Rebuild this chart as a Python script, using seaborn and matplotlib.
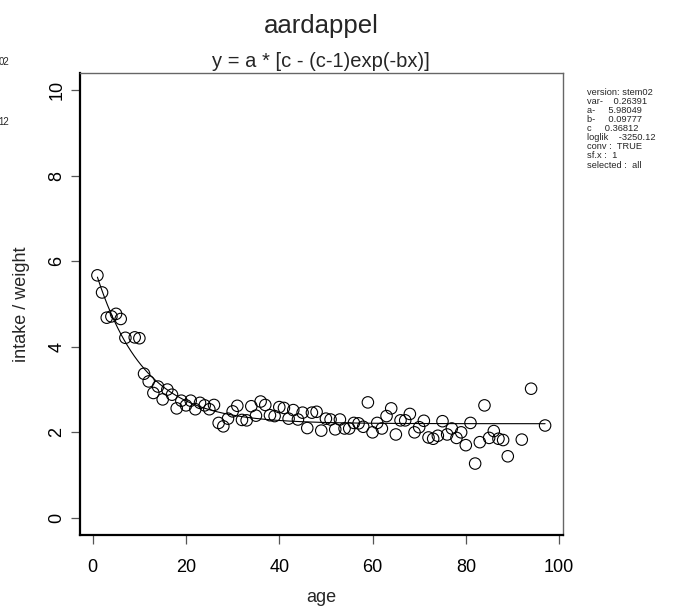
import matplotlib
matplotlib.use("Agg")
import matplotlib.pyplot as plt
import numpy as np
import pandas as pd
import seaborn as sns

# observed intake per unit body weight, by age
age = [1, 2, 3, 4, 5, 6, 7, 9, 10,
       11, 12, 13, 14, 15, 16, 17, 18, 19, 20,
       21, 22, 23, 24, 25, 26, 27, 28, 29, 30,
       31, 32, 33, 34, 35, 36, 37, 38, 39, 40,
       41, 42, 43, 44, 45, 46, 47, 48, 49, 50,
       51, 52, 53, 54, 55, 56, 57, 58, 59, 60,
       61, 62, 63, 64, 65, 66, 67, 68, 69, 70,
       71, 72, 73, 74, 75, 76, 77, 78, 79, 80,
       81, 82, 83, 84, 85, 86, 87, 88, 89, 92, 94, 97]
intake_weight = [5.67, 5.27, 4.68, 4.71, 4.77, 4.65, 4.21, 4.22, 4.20,
                 3.37, 3.19, 2.92, 3.07, 2.77, 3.00, 2.88, 2.56, 2.74, 2.63,
                 2.74, 2.54, 2.69, 2.63, 2.54, 2.64, 2.22, 2.14, 2.32, 2.49,
                 2.62, 2.29, 2.28, 2.61, 2.39, 2.72, 2.64, 2.40, 2.38, 2.59,
                 2.57, 2.32, 2.52, 2.30, 2.46, 2.10, 2.46, 2.48, 2.04, 2.32,
                 2.30, 2.07, 2.30, 2.09, 2.09, 2.22, 2.21, 2.13, 2.70, 2.00,
                 2.22, 2.09, 2.38, 2.56, 1.95, 2.28, 2.28, 2.43, 2.00, 2.12,
                 2.27, 1.88, 1.85, 1.92, 2.26, 1.95, 2.09, 1.87, 2.00, 1.70,
                 2.22, 1.27, 1.77, 2.63, 1.87, 2.03, 1.85, 1.82, 1.44, 1.83, 3.02, 2.16]

x_ticks = [0, 20, 40, 60, 80, 100]
y_ticks = [0, 2, 4, 6, 8, 10]

# fitted model y = a * [c - (c-1)exp(-bx)]
a_fit = 5.98049
b_fit = 0.09777
c_fit = 0.36812
var_fit = 0.26391
loglik = -3250.12

info_lines = [
    "version: stem02",
    f"var-    {var_fit:.5f}",
    f"a-     {a_fit:.5f}",
    f"b-     {b_fit:.5f}",
    f"c     {c_fit:.5f}",
    f"loglik    {loglik:.2f}",
    "conv :  TRUE",
    "sf.x :  1",
    "selected :  all",
]

sns.set_style("ticks")
plt.rcParams["font.family"] = ["Liberation Sans", "DejaVu Sans"]

W, H = 678, 610
fig = plt.figure(figsize=(W / 100, H / 100), dpi=100)
L, R, T, B = 79.5, 563, 73, 535
ax = fig.add_axes([L / W, 1 - B / H, (R - L) / W, (B - T) / H])

obs = pd.DataFrame({"age": age, "ratio": intake_weight})
sns.scatterplot(data=obs, x="age", y="ratio", ax=ax, marker="o", s=68,
                facecolor="none", edgecolor="black", linewidth=0.8, zorder=3)

grid = np.linspace(min(age), max(age), 400)
curve = pd.DataFrame({"age": grid,
                      "ratio": a_fit * (c_fit - (c_fit - 1) * np.exp(-b_fit * grid))})
sns.lineplot(data=curve, x="age", y="ratio", ax=ax, color="black", linewidth=0.8)

ax.set_xlim(-2.84, 100.84)
ax.set_ylim(-0.4, 10.4)
ax.set_xticks(x_ticks)
ax.set_yticks(y_ticks)
ax.set_xticklabels([str(v) for v in x_ticks])
ax.set_yticklabels([str(v) for v in y_ticks], rotation=90, va="center")
ax.tick_params(axis="both", direction="out", length=6.5, width=0.9, color="#555555",
               labelsize=13, labelcolor="black")
ax.tick_params(axis="x", pad=11.0)
ax.tick_params(axis="y", pad=3.5)

for side in ("left", "bottom"):
    ax.spines[side].set_color("black")
    ax.spines[side].set_linewidth(1.6)
for side in ("top", "right"):
    ax.spines[side].set_visible(True)
    ax.spines[side].set_color("#666666")
    ax.spines[side].set_linewidth(1.0)

ax.set_xlabel("")
ax.set_ylabel("")
fig.text(321 / W, 1 - 597 / H, "age", ha="center", va="center", fontsize=13)
fig.text(22 / W, 1 - 304 / H, "intake / weight", ha="center", va="center",
         rotation=90, fontsize=13)

fig.text(321 / W, 1 - 33 / H, "aardappel", ha="center", va="baseline", fontsize=18.5)
fig.text(321 / W, 1 - 67 / H, "y = a * [c - (c-1)exp(-bx)]", ha="center",
         va="baseline", fontsize=14.5)

# parameter summary beside the panel
for i, line in enumerate(info_lines):
    fig.text(587 / W, 1 - (92.3 + i * 9.1) / H, line, ha="left", va="center",
             fontsize=6.7)

# tail ends of the neighbouring panel's summary
fig.text(9.5 / W, 1 - 61.7 / H, "02", ha="right", va="center", fontsize=6.9)
fig.text(9.5 / W, 1 - 121.7 / H, "12", ha="right", va="center", fontsize=6.9)

fig.savefig("out.png", dpi=100)
